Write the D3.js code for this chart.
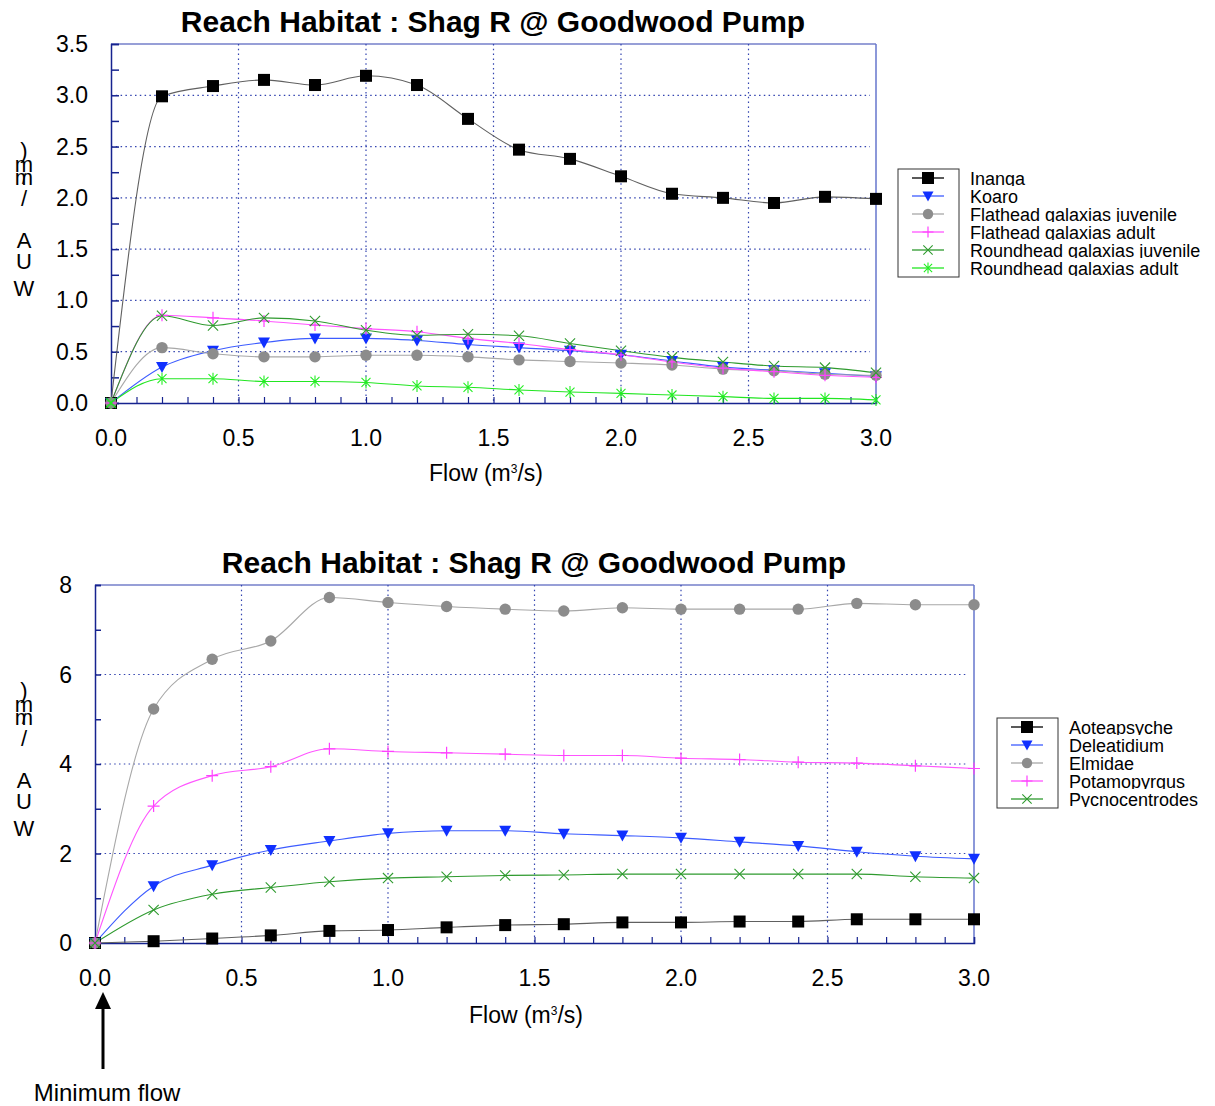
<!DOCTYPE html>
<html><head><meta charset="utf-8">
<script src="https://cdn.jsdelivr.net/npm/d3@7"></script>
<style>body{margin:0;background:#fff;} svg{display:block;} text{font-family:"Liberation Sans",Arial,sans-serif;fill:#000;}</style>
</head><body>
<svg id="c" width="1215" height="1106"></svg>
<script>
// ---------- DATA ----------
const flow = [0, 0.2, 0.4, 0.6, 0.8, 1.0, 1.2, 1.4, 1.6, 1.8, 2.0, 2.2, 2.4, 2.6, 2.8, 3.0];
const xTickLabels = ["0.0", "0.5", "1.0", "1.5", "2.0", "2.5", "3.0"];

// Fish chart
const fishNames = ["Inanga", "Koaro", "Flathead galaxias juvenile", "Flathead galaxias adult", "Roundhead galaxias juvenile", "Roundhead galaxias adult"];
const inanga      = [0, 2.99, 3.09, 3.15, 3.10, 3.19, 3.10, 2.77, 2.47, 2.38, 2.21, 2.04, 2.00, 1.95, 2.01, 1.99];
const koaro       = [0, 0.35, 0.51, 0.59, 0.63, 0.63, 0.61, 0.57, 0.54, 0.51, 0.47, 0.41, 0.35, 0.32, 0.29, 0.26];
const flatheadJuv = [0, 0.54, 0.48, 0.45, 0.45, 0.465, 0.465, 0.45, 0.42, 0.405, 0.39, 0.37, 0.33, 0.315, 0.28, 0.27];
const flatheadAd  = [0, 0.855, 0.83, 0.80, 0.76, 0.725, 0.695, 0.63, 0.58, 0.52, 0.47, 0.40, 0.34, 0.305, 0.27, 0.25];
const roundheadJuv= [0, 0.85, 0.755, 0.83, 0.80, 0.71, 0.66, 0.67, 0.655, 0.58, 0.51, 0.445, 0.40, 0.36, 0.345, 0.295];
const roundheadAd = [0, 0.237, 0.237, 0.21, 0.21, 0.20, 0.166, 0.153, 0.127, 0.107, 0.094, 0.078, 0.062, 0.045, 0.045, 0.03];
const fishYTicks = ["0.0", "0.5", "1.0", "1.5", "2.0", "2.5", "3.0", "3.5"];

// Invertebrate chart
const invNames = ["Aoteapsyche", "Deleatidium", "Elmidae", "Potamopyrgus", "Pycnocentrodes"];
const aoteapsyche   = [0, 0.04, 0.10, 0.17, 0.27, 0.29, 0.35, 0.40, 0.42, 0.46, 0.46, 0.48, 0.48, 0.53, 0.53, 0.53];
const deleatidium   = [0, 1.27, 1.74, 2.08, 2.28, 2.45, 2.51, 2.51, 2.44, 2.40, 2.35, 2.26, 2.17, 2.04, 1.94, 1.88];
const elmidae       = [0, 5.23, 6.34, 6.75, 7.72, 7.61, 7.52, 7.46, 7.42, 7.49, 7.46, 7.46, 7.46, 7.59, 7.56, 7.56];
const potamopyrgus  = [0, 3.06, 3.74, 3.94, 4.34, 4.28, 4.25, 4.22, 4.19, 4.19, 4.13, 4.10, 4.04, 4.02, 3.96, 3.90];
const pycnocentrodes= [0, 0.74, 1.09, 1.24, 1.37, 1.45, 1.48, 1.51, 1.52, 1.54, 1.54, 1.54, 1.54, 1.54, 1.48, 1.45];
const invYTicks = ["0", "2", "4", "6", "8"];

const chartTitle = "Reach Habitat : Shag R @ Goodwood Pump";
const annotation = "Minimum flow";

// ---------- STYLES ----------
const fishStyles = [
  {marker:"square",   mColor:"#000000", lColor:"#606060"},
  {marker:"triDown",  mColor:"#1030ff", lColor:"#3d5cff"},
  {marker:"circle",   mColor:"#8c8c8c", lColor:"#a8a8a8"},
  {marker:"plus",     mColor:"#ff40ff", lColor:"#ff55ff"},
  {marker:"cross",    mColor:"#2e9a2e", lColor:"#2e9a2e"},
  {marker:"asterisk", mColor:"#22ee22", lColor:"#22e622"}
];
const invStyles = fishStyles.slice(0,5);

const svg = d3.select("#c");
const defs = svg.append("defs");
const AXIS = "#16238f";
const GRID = "#3344b0";

function drawMarker(g, type, x, y, color, s) {
  const h = s/2;
  if (type === "square") {
    g.append("rect").attr("x", x-h).attr("y", y-h).attr("width", s).attr("height", s).attr("fill", color);
  } else if (type === "circle") {
    g.append("circle").attr("cx", x).attr("cy", y).attr("r", h-0.3).attr("fill", color);
  } else if (type === "triDown") {
    g.append("path").attr("d", `M${x-h},${y-h+1}L${x+h},${y-h+1}L${x},${y+h}Z`).attr("fill", color);
  } else if (type === "plus") {
    g.append("path").attr("d", `M${x-h},${y}L${x+h},${y}M${x},${y-h}L${x},${y+h}`).attr("stroke", color).attr("stroke-width", 1.2).attr("fill","none");
  } else if (type === "cross") {
    const k = h*0.85;
    g.append("path").attr("d", `M${x-k},${y-k}L${x+k},${y+k}M${x-k},${y+k}L${x+k},${y-k}`).attr("stroke", color).attr("stroke-width", 1.1).attr("fill","none");
  } else if (type === "asterisk") {
    const k = h*0.75;
    g.append("path").attr("d", `M${x-k},${y-k}L${x+k},${y+k}M${x-k},${y+k}L${x+k},${y-k}M${x},${y-h}L${x},${y+h}`).attr("stroke", color).attr("stroke-width", 1.1).attr("fill","none");
  }
}

function drawChart(cfg) {
  const g = svg.append("g");
  const x = d3.scaleLinear().domain([0, 3]).range([cfg.left, cfg.right]);
  const y = d3.scaleLinear().domain([0, cfg.yMax]).range([cfg.bottom, cfg.top]);

  // grid
  cfg.yGrid.forEach(v => {
    g.append("line").attr("x1", cfg.left).attr("x2", cfg.right - 6).attr("y1", y(v)).attr("y2", y(v))
      .attr("stroke", GRID).attr("stroke-width", 1.2).attr("stroke-dasharray", "1.5,3.3");
  });
  [0.5, 1.0, 1.5, 2.0, 2.5].forEach(v => {
    g.append("line").attr("x1", x(v)).attr("x2", x(v)).attr("y1", cfg.top).attr("y2", cfg.bottom)
      .attr("stroke", GRID).attr("stroke-width", 1.2).attr("stroke-dasharray", "1.5,3.3");
  });

  // frame
  g.append("line").attr("x1", cfg.left).attr("x2", cfg.right).attr("y1", cfg.top).attr("y2", cfg.top).attr("stroke", "#3040b0").attr("stroke-width", 1.2);
  g.append("line").attr("x1", cfg.right).attr("x2", cfg.right).attr("y1", cfg.top).attr("y2", cfg.bottom).attr("stroke", "#6676cc").attr("stroke-width", 1.5);

  // axes with inward ticks
  const xAxis = d3.axisTop(x).tickValues(d3.range(0, 31).map(i => i/10)).tickSize(6).tickFormat("");
  const xg = g.append("g").attr("transform", `translate(0,${cfg.bottom})`).call(xAxis);
  xg.selectAll("path").attr("stroke", AXIS).attr("stroke-width", 1.5);
  xg.selectAll("line").attr("stroke", AXIS).attr("stroke-width", 1.2);
  const yAxis = d3.axisRight(y).tickValues(cfg.yMinor).tickSize(cfg.yTickLen).tickFormat("");
  const yg = g.append("g").attr("transform", `translate(${cfg.left},0)`).call(yAxis);
  yg.selectAll("path").attr("stroke", AXIS).attr("stroke-width", 1.5);
  yg.selectAll("line").attr("stroke", AXIS).attr("stroke-width", 1.5);

  // tick labels
  xTickLabels.forEach(t => {
    g.append("text").attr("x", x(+t)).attr("y", cfg.bottom + 43).attr("text-anchor", "middle").attr("font-size", 23).text(t);
  });
  cfg.yTickLabels.forEach(t => {
    g.append("text").attr("x", cfg.left - 23).attr("y", y(+t) + 8).attr("text-anchor", "end").attr("font-size", 23).text(t);
  });

  // titles
  g.append("text").attr("x", cfg.titleX).attr("y", cfg.top - 12).attr("text-anchor", "middle")
    .attr("font-size", 30).attr("font-weight", "bold").text(chartTitle);
  const xt = g.append("text").attr("x", cfg.xTitleX).attr("y", cfg.bottom + cfg.xTitleDy).attr("text-anchor", "middle").attr("font-size", 23);
  xt.append("tspan").text("Flow (m");
  xt.append("tspan").attr("font-size", 12).attr("dy", -8).text("3");
  xt.append("tspan").attr("dy", 8).text("/s)");

  // y label - stacked characters
  const yc = (cfg.top + cfg.bottom) / 2;
  const chars = [
    {c:")", dy:-66}, {c:"m", dy:-52}, {c:"m", dy:-39}, {c:"/", dy:-40, fs:14}, {c:"/", dy:-18},
    {c:"A", dy:24}, {c:"U", dy:45}, {c:"W", dy:72}
  ];
  chars.forEach(ch => {
    g.append("text").attr("x", 24).attr("y", yc + ch.dy).attr("text-anchor", "middle")
      .attr("font-size", ch.fs || 22).text(ch.c);
  });

  // series
  const line = d3.line().x((d,i) => x(flow[i])).y(d => y(d)).curve(d3.curveMonotoneX);
  cfg.series.forEach((s, k) => {
    g.append("path").datum(s).attr("d", line).attr("fill", "none").attr("stroke", cfg.styles[k].lColor).attr("stroke-width", 1.1);
  });
  cfg.series.forEach((s, k) => {
    const st = cfg.styles[k];
    s.forEach((v, i) => drawMarker(g, st.marker, x(flow[i]), y(v), st.mColor, 12));
  });

  // legend
  const L = cfg.legend;
  g.append("rect").attr("x", L.x).attr("y", L.y).attr("width", L.w).attr("height", L.h)
    .attr("fill", "#fff").attr("stroke", "#333").attr("stroke-width", 1);
  cfg.names.forEach((n, k) => {
    const cy = L.y + 9 + k * 18;
    const st = cfg.styles[k];
    g.append("line").attr("x1", L.x + 14).attr("x2", L.x + 46).attr("y1", cy).attr("y2", cy)
      .attr("stroke", st.marker === "square" ? "#000" : st.lColor).attr("stroke-width", 1.3);
    drawMarker(g, st.marker, L.x + 30, cy, st.mColor, st.marker === "square" ? 12 : 11);
    const cid = `clip-${cfg.id}-${k}`;
    defs.append("clipPath").attr("id", cid).append("rect")
      .attr("x", L.x + 60).attr("y", cy - 10).attr("width", 400).attr("height", 18);
    g.append("text").attr("x", L.x + 72).attr("y", cy + 7).attr("font-size", 18)
      .attr("clip-path", `url(#${cid})`).text(n);
  });
}

drawChart({
  id: "fish", left: 111, right: 876, top: 44, bottom: 403, yMax: 3.5,
  yGrid: [0.5, 1.0, 1.5, 2.0, 2.5, 3.0], yMinor: d3.range(0, 15).map(i => i*0.25), yTickLen: 8,
  yTickLabels: fishYTicks, titleX: 493, xTitleX: 486, xTitleDy: 78,
  series: [inanga, koaro, flatheadJuv, flatheadAd, roundheadJuv, roundheadAd],
  styles: fishStyles, names: fishNames,
  legend: {x: 898, y: 169, w: 61, h: 108}
});

drawChart({
  id: "inv", left: 95, right: 974, top: 585, bottom: 943, yMax: 8,
  yGrid: [2, 4, 6], yMinor: d3.range(0, 9), yTickLen: 6,
  yTickLabels: invYTicks, titleX: 534, xTitleX: 526, xTitleDy: 80,
  series: [aoteapsyche, deleatidium, elmidae, potamopyrgus, pycnocentrodes],
  styles: invStyles, names: invNames,
  legend: {x: 997, y: 718, w: 61, h: 90}
});

// annotation arrow
svg.append("line").attr("x1", 103).attr("x2", 103).attr("y1", 1069).attr("y2", 1005).attr("stroke", "#000").attr("stroke-width", 3);
svg.append("path").attr("d", "M103,992L95,1009L111,1009Z").attr("fill", "#000");
svg.append("text").attr("x", 107).attr("y", 1101).attr("text-anchor", "middle").attr("font-size", 24).text(annotation);
</script>
</body></html>
